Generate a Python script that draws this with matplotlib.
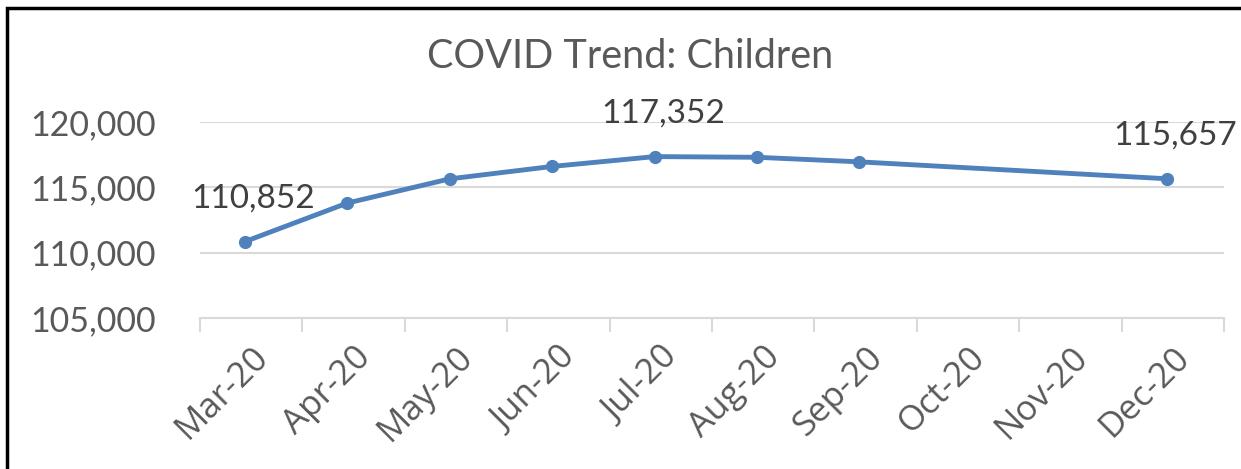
import matplotlib
matplotlib.use('Agg')
import matplotlib.pyplot as plt
from matplotlib.patches import Rectangle
from matplotlib.ticker import FuncFormatter

plt.rcParams['font.family'] = ['Lato', 'DejaVu Sans']

months = ['Mar-20', 'Apr-20', 'May-20', 'Jun-20', 'Jul-20', 'Aug-20',
          'Sep-20', 'Oct-20', 'Nov-20', 'Dec-20']
# months that have a value (index into months)
pt_idx = [0, 1, 2, 3, 4, 5, 6, 9]
children = [110852, 113800, 115650, 116600, 117352, 117300, 116950, 115657]
labelled = [0, 4, 9]

fig = plt.figure(figsize=(12.41, 4.69), dpi=100)
ax = fig.add_axes([200/1241, 1-318/469, 1024/1241, 196/469])

# excel date axis puts the point a bit left of the month centre
xs = [i + 0.44 for i in pt_idx]
ax.plot(xs, children, color='#4F81BD', lw=3.5, marker='o', ms=8.5,
        solid_capstyle='round', zorder=3)

for x, v, i in zip(xs, children, pt_idx):
    if i in labelled:
        ax.annotate(f'{v:,}', (x, v), xytext=(6, 31), textcoords='offset points',
                    ha='center', va='center', fontsize=24, color='#404040')

ax.set_xlim(0, 10)
ax.set_ylim(105000, 120000)
ax.set_yticks([105000, 110000, 115000, 120000])
ax.yaxis.set_major_formatter(FuncFormatter(lambda v, p: f'{int(v):,}'))
ax.tick_params(axis='y', length=0, pad=32, labelsize=24.5, labelcolor='#595959')
ax.grid(axis='y', color='#D9D9D9', lw=1.5)
ax.set_axisbelow(True)

# labels on the month centres, tick marks on the boundaries
ax.set_xticks([i + 0.5 for i in range(len(months))])
ax.set_xticks(range(len(months) + 1), minor=True)
ax.tick_params(axis='x', which='minor', length=10, width=1.5, color='#D9D9D9', direction='out')
ax.tick_params(axis='x', which='major', length=0, pad=16)
ax.set_xticklabels(months)

for s in ['top', 'right', 'left']:
    ax.spines[s].set_visible(False)
ax.spines['bottom'].set_color('#D9D9D9')
ax.spines['bottom'].set_linewidth(1.5)

fig.text(630/1241, 1-57/469, 'COVID Trend: Children', ha='center', va='center',
         fontsize=28.5, color='#595959')

fig.patches.append(Rectangle((7/1241, -0.5), 2, 0.5 + 1 - 8/469, transform=fig.transFigure,
                             fill=False, edgecolor='black', lw=2.5))

fig.canvas.draw()
for lab in ax.get_xticklabels():
    lab.set_family(['Open Sans', 'DejaVu Sans'])
    lab.set_fontsize(25)
    lab.set_color('#595959')
    lab.set_rotation(45)
    lab.set_ha('right')
    lab.set_va('top')
    lab.set_rotation_mode('anchor')

fig.savefig('out.png', dpi=100)
